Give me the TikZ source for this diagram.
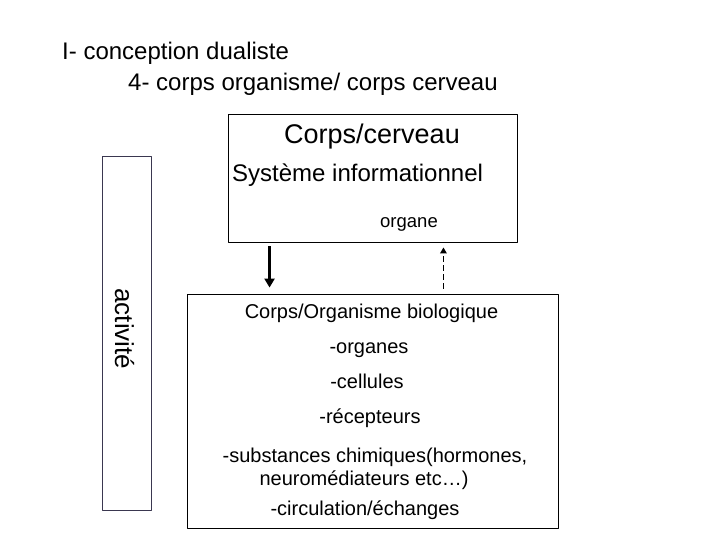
\documentclass[tikz,border=0pt]{standalone}
\usepackage{fontspec}
\setmainfont{Liberation Sans}
\usetikzlibrary{arrows.meta}

\definecolor{cadregris}{RGB}{58,55,80}

\begin{document}
\begin{tikzpicture}[
	x=1pt, y=-1pt,
	every node/.style={inner sep=0pt},
	line join=round,
	cadre/.style={draw, line width=0.9pt},
	titre/.style={anchor=base west, font=\fontsize{24}{28}\selectfont},
	ligne/.style={anchor=base, font=\fontsize{20}{24}\selectfont},
	fleche/.style={-{Triangle[length=9pt,width=10pt]}, line width=3.5pt, shorten <=4pt, shorten >=6pt},
	retour/.style={-{Triangle[length=6pt,width=6.5pt]}, line width=1.8pt, dash pattern=on 6pt off 3pt, shorten <=5pt, shorten >=5pt}
	]
	
	\useasboundingbox (0,0) rectangle (720,540);
	
	% Title
	\node[titre] (titre1) at (62,60) {I- conception dualiste};
	\node[titre] (titre2) at (128,91) {4- corps organisme/ corps cerveau};
	
	% Upper box
	\node[cadre, minimum width=289pt, minimum height=128pt] (cerveau) at (372.5,178) {};
	\node[anchor=base, font=\fontsize{27}{32}\selectfont] (corpscerveau) at (372,144) {Corps/cerveau};
	\node[anchor=base west, font=\fontsize{24}{28}\selectfont] (systeme) at (232,182) {Système informationnel};
	\node[anchor=base, font=\fontsize{18.5}{22}\selectfont] (organe) at (409,228) {organe};
	
	% Lower box
	\node[cadre, minimum width=371pt, minimum height=234pt] (organisme) at (372.5,411) {};
	\node[ligne] (biologique) at (371.5,318) {Corps/Organisme biologique};
	\node[ligne] (organes) at (369,353) {-organes};
	\node[ligne] (cellules) at (367,388) {-cellules};
	\node[ligne] (recepteurs) at (370,423) {-récepteurs};
	\node[ligne] (substances) at (375,462) {-substances chimiques(hormones,};
	\node[ligne] (neuro) at (364,485) {neuromédiateurs etc…)};
	\node[ligne] (circulation) at (365,515) {-circulation/échanges};
	
	% Side box
	\node[cadre, draw=cadregris, minimum width=49pt, minimum height=354pt] (activite) at (126.5,333) {};
	\node[rotate=-90, anchor=base, font=\fontsize{26}{30}\selectfont] (activitetexte) at (115,329) {activité};
	
	% Arrows
	\draw[fleche] ([xshift=42pt]cerveau.south west) -- ([xshift=83pt]organisme.north west);
	\draw[retour] ([xshift=-115pt]organisme.north east) -- ([xshift=-74pt]cerveau.south east);
	
\end{tikzpicture}
\end{document}
